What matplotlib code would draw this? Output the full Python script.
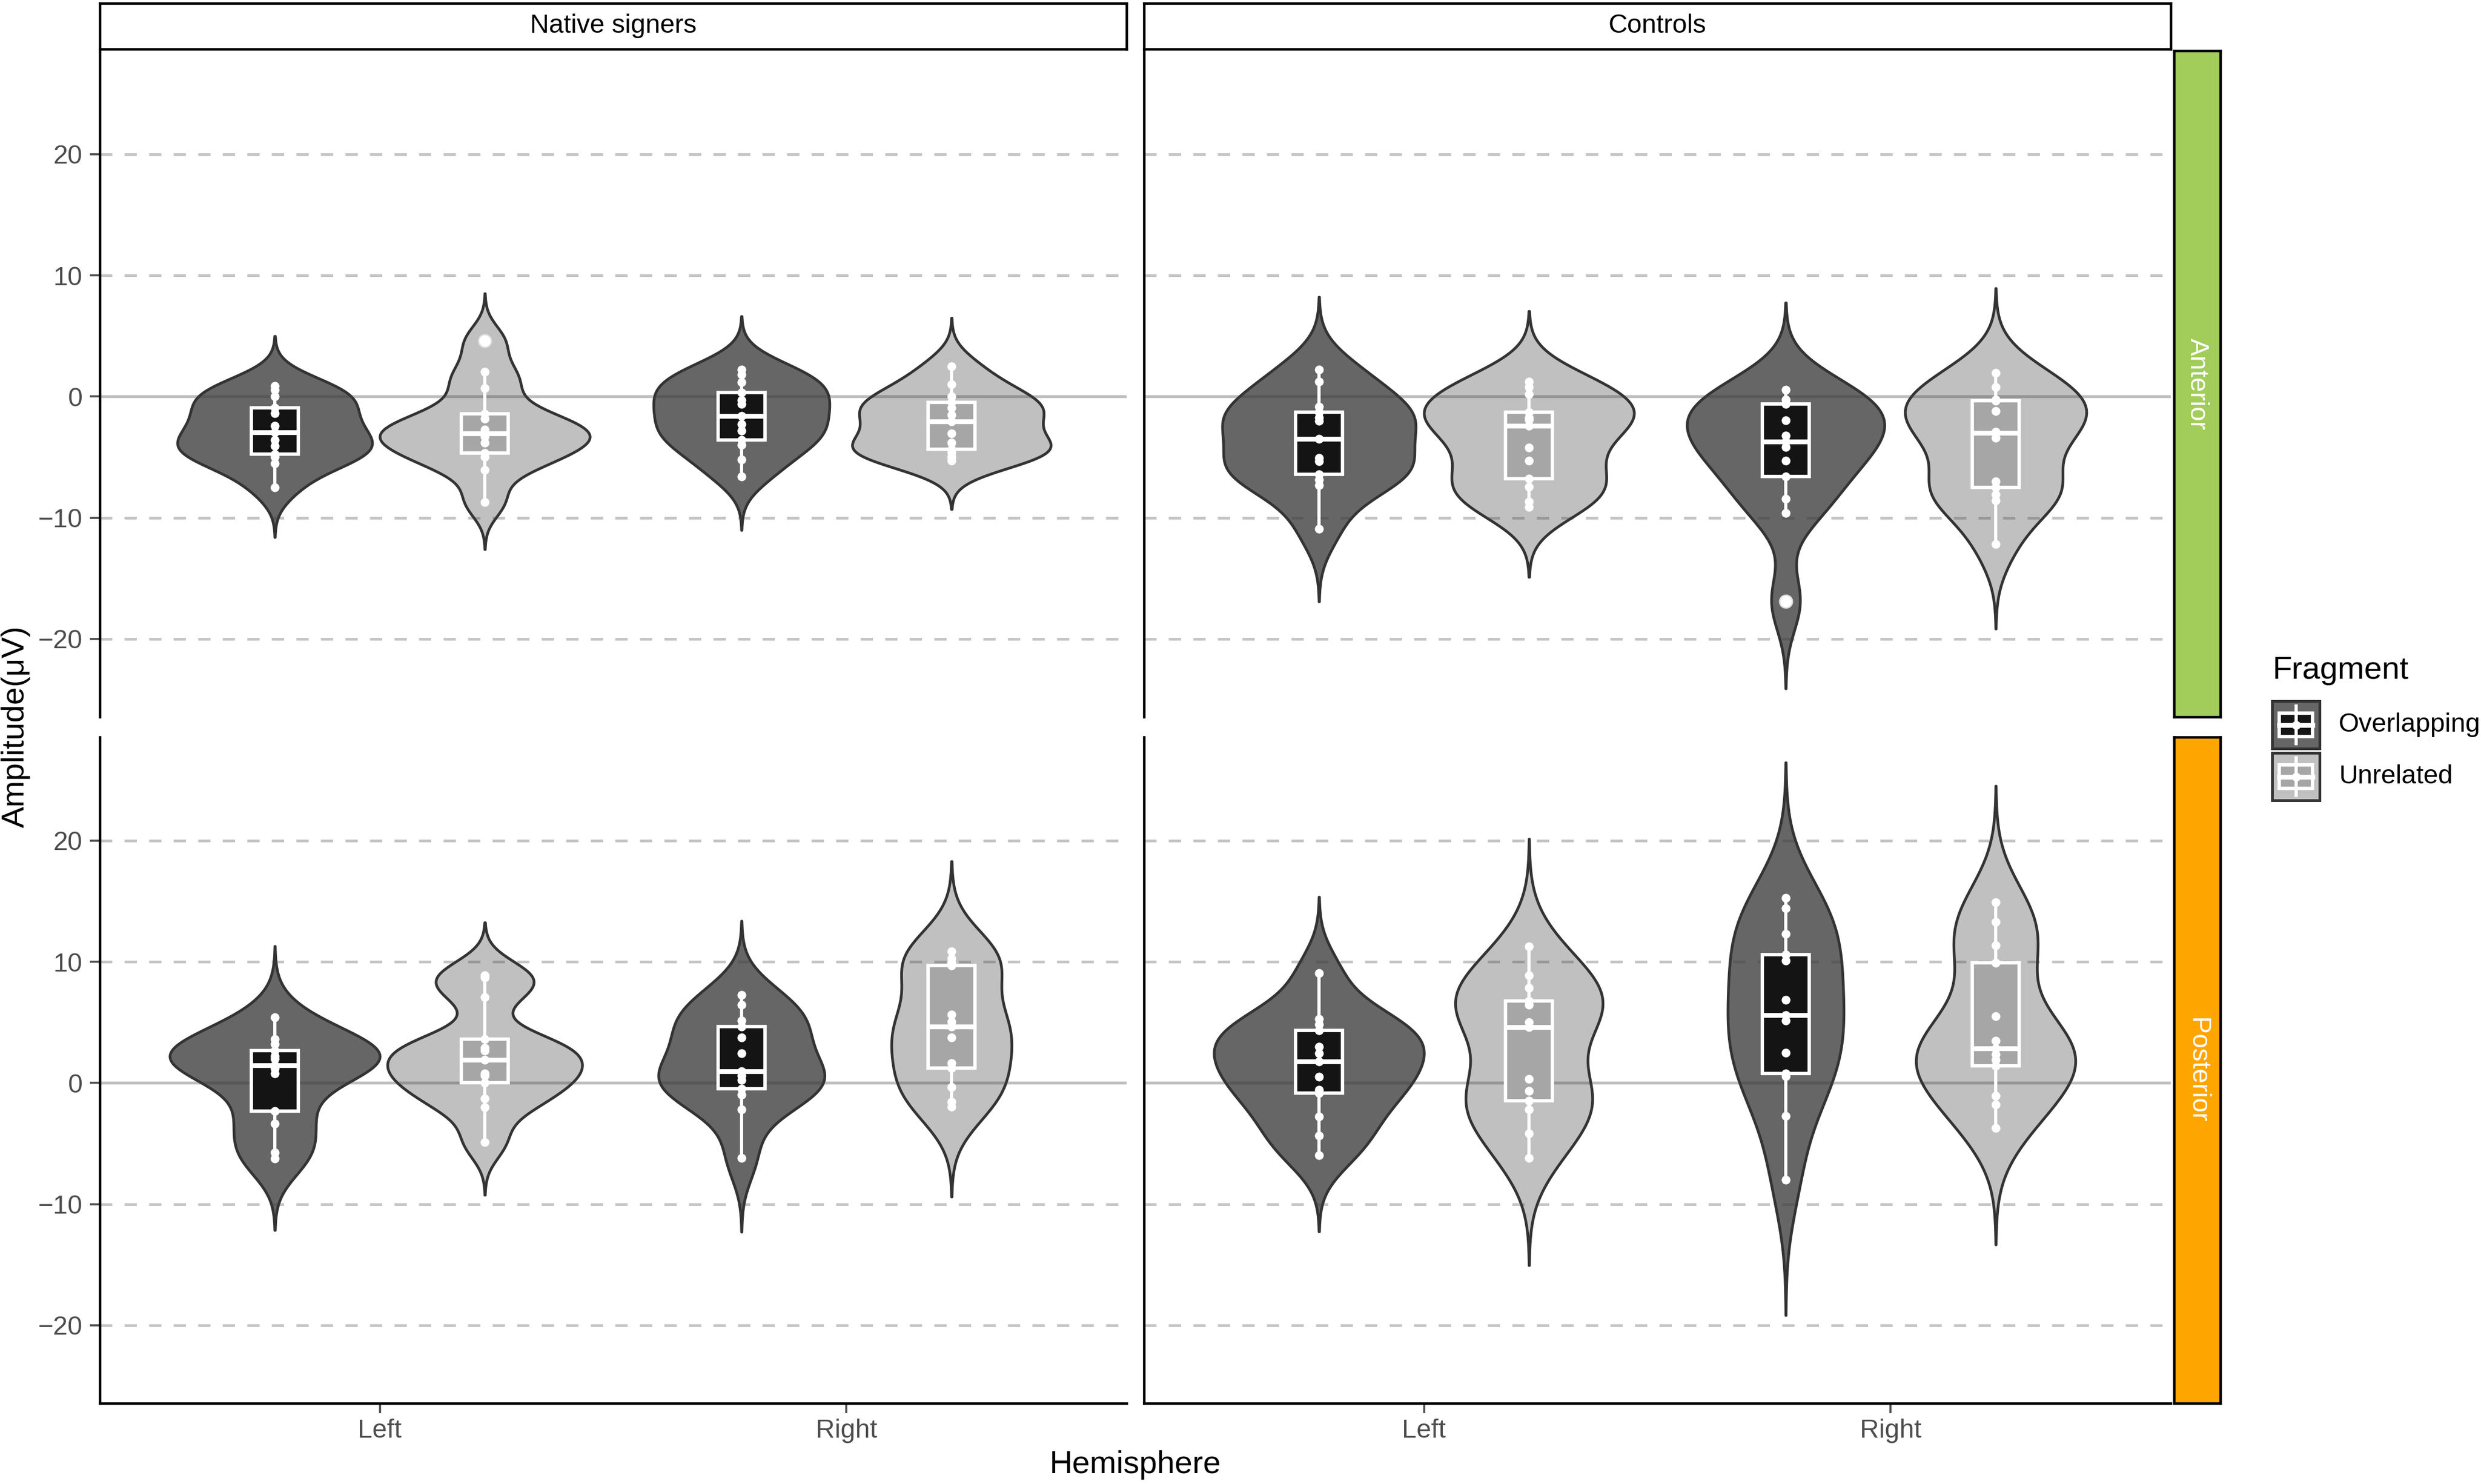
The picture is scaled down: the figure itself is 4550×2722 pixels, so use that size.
import numpy as np
import matplotlib
matplotlib.use("Agg")
import matplotlib.pyplot as plt
from matplotlib.patches import Rectangle

plt.rcParams['font.family'] = ['Liberation Sans', 'DejaVu Sans']

# ---- data: amplitudes (uV), one list per cell ----
groups = ['Native signers', 'Controls']
regions = ['Anterior', 'Posterior']
hemispheres = ['Left', 'Right']
fragments = ['Overlapping', 'Unrelated']

ns_ant_left_ovl = [-7.48, -5.5, -5.0, -4.77, -4.1, -3.6, -2.97, -2.4, -1.4, -0.95, 0.0, 0.56, 0.86]
ns_ant_left_unr = [-8.7, -6.05, -5.0, -4.67, -3.8, -3.3, -3.05, -2.75, -1.85, -1.43, 0.7, 2.06, 4.6]
ns_ant_right_ovl = [-6.6, -5.2, -4.0, -3.6, -2.8, -2.3, -1.6, -0.6, -0.3, 0.35, 1.2, 1.8, 2.2]
ns_ant_right_unr = [-5.3, -5.0, -4.6, -4.37, -3.8, -3.05, -2.07, -1.5, -0.95, -0.5, 0.0, 1.0, 2.5]
ctl_ant_left_ovl = [-10.9, -7.3, -6.85, -6.4, -5.35, -5.05, -3.48, -2.0, -1.75, -1.3, -0.85, 1.25, 2.2]
ctl_ant_left_unr = [-9.1, -8.65, -7.45, -6.78, -5.3, -4.2, -2.43, -1.9, -1.75, -1.3, 0.2, 0.8, 1.25]
ctl_ant_right_ovl = [-16.9, -9.6, -8.43, -6.6, -5.28, -4.17, -3.7, -3.23, -1.97, -0.63, -0.55, -0.24, 0.55]
ctl_ant_right_unr = [-12.2, -8.6, -8.1, -7.48, -7.0, -3.4, -2.99, -2.9, -1.18, -0.36, -0.24, 0.8, 1.97]

ns_post_left_ovl = [-6.26, -5.75, -3.35, -2.32, 0.77, 1.2, 1.46, 2.0, 2.2, 2.66, 3.2, 3.6, 5.4]
ns_post_left_unr = [-4.9, -2.0, -1.3, 0.0, 0.6, 0.77, 1.9, 2.66, 2.9, 3.6, 7.1, 8.7, 8.9]
ns_post_right_ovl = [-6.18, -2.17, -0.96, -0.46, 0.24, 0.6, 0.94, 2.45, 3.75, 4.65, 5.15, 6.46, 7.26]
ns_post_right_unr = [-1.97, -1.56, -0.36, 1.24, 1.64, 3.75, 4.65, 5.05, 5.66, 9.67, 9.9, 10.27, 10.87]
ctl_post_left_ovl = [-5.98, -4.37, -2.77, -0.86, -0.56, 0.5, 1.75, 2.45, 3.0, 4.35, 4.85, 5.26, 9.07]
ctl_post_left_unr = [-6.18, -4.17, -2.17, -1.46, -0.66, 0.34, 4.6, 5.0, 6.46, 6.76, 7.86, 8.87, 11.27]
ctl_post_right_ovl = [-7.98, -2.75, 0.54, 0.8, 2.48, 5.16, 5.6, 6.86, 10.1, 10.6, 12.3, 14.4, 15.26]
ctl_post_right_unr = [-3.72, -1.78, -1.05, 1.39, 1.9, 2.36, 2.85, 3.5, 5.52, 9.9, 11.36, 13.3, 14.9]

amplitudes = {
    ('Native signers', 'Anterior', 'Left', 'Overlapping'): ns_ant_left_ovl,
    ('Native signers', 'Anterior', 'Left', 'Unrelated'): ns_ant_left_unr,
    ('Native signers', 'Anterior', 'Right', 'Overlapping'): ns_ant_right_ovl,
    ('Native signers', 'Anterior', 'Right', 'Unrelated'): ns_ant_right_unr,
    ('Controls', 'Anterior', 'Left', 'Overlapping'): ctl_ant_left_ovl,
    ('Controls', 'Anterior', 'Left', 'Unrelated'): ctl_ant_left_unr,
    ('Controls', 'Anterior', 'Right', 'Overlapping'): ctl_ant_right_ovl,
    ('Controls', 'Anterior', 'Right', 'Unrelated'): ctl_ant_right_unr,
    ('Native signers', 'Posterior', 'Left', 'Overlapping'): ns_post_left_ovl,
    ('Native signers', 'Posterior', 'Left', 'Unrelated'): ns_post_left_unr,
    ('Native signers', 'Posterior', 'Right', 'Overlapping'): ns_post_right_ovl,
    ('Native signers', 'Posterior', 'Right', 'Unrelated'): ns_post_right_unr,
    ('Controls', 'Posterior', 'Left', 'Overlapping'): ctl_post_left_ovl,
    ('Controls', 'Posterior', 'Left', 'Unrelated'): ctl_post_left_unr,
    ('Controls', 'Posterior', 'Right', 'Overlapping'): ctl_post_right_ovl,
    ('Controls', 'Posterior', 'Right', 'Unrelated'): ctl_post_right_unr,
}

# ---- style ----
violin_fill = {'Overlapping': '#666666', 'Unrelated': '#C0C0C0'}
box_fill = {'Overlapping': '#141414', 'Unrelated': '#A6A6A6'}
strip_fill = {'Anterior': '#A2CD5A', 'Posterior': '#FFA500'}
outline = '#333333'
tick_col = '#4D4D4D'
FS = 11.6
FS_TITLE = 14

W, H = 4550, 2722
DPI = 300
col_px = [(183, 2066), (2098, 3981)]
row_px = [(93, 1315), (1352, 2574)]
YLIM = (-26.45, 28.55)


def px_axes(fig, x0, y0, x1, y1):
    return fig.add_axes([x0 / W, 1 - y1 / H, (x1 - x0) / W, (y1 - y0) / H])


def nrd0(x):
    sd = np.std(x, ddof=1)
    q75, q25 = np.percentile(x, [75, 25])
    return 0.9 * min(sd, (q75 - q25) / 1.34) * len(x) ** -0.2


def kde(x):
    x = np.asarray(x, dtype=float)
    bw = nrd0(x)
    y = np.linspace(x.min() - 3 * bw, x.max() + 3 * bw, 512)
    d = np.exp(-0.5 * ((y[:, None] - x[None, :]) / bw) ** 2).sum(1)
    d /= len(x) * bw * np.sqrt(2 * np.pi)
    return y, d


fig = plt.figure(figsize=(W / DPI, H / DPI), dpi=DPI)

for r, region in enumerate(regions):
    for c, group in enumerate(groups):
        x0, x1 = col_px[c]
        y0, y1 = row_px[r]
        ax = px_axes(fig, x0, y0, x1, y1)
        ax.set_xlim(0.4, 2.6)
        ax.set_ylim(*YLIM)

        # densities, scaled per panel by area
        dens = {}
        for h in hemispheres:
            for f in fragments:
                dens[(h, f)] = kde(amplitudes[(group, region, h, f)])
        dmax = max(d.max() for _, d in dens.values())

        for hi, h in enumerate(hemispheres):
            for fi, f in enumerate(fragments):
                xc = hi + 1 + (-0.225 if fi == 0 else 0.225)
                vals = np.asarray(amplitudes[(group, region, h, f)])
                yy, dd = dens[(h, f)]
                half = 0.225 * dd / dmax
                ax.fill_betweenx(yy, xc - half, xc + half, facecolor=violin_fill[f],
                                 edgecolor=outline, linewidth=1.2, zorder=1)

                q1, med, q3 = np.percentile(vals, [25, 50, 75])
                iqr = q3 - q1
                inside = vals[(vals >= q1 - 1.5 * iqr) & (vals <= q3 + 1.5 * iqr)]
                outl = vals[(vals < q1 - 1.5 * iqr) | (vals > q3 + 1.5 * iqr)]
                ax.plot([xc, xc], [q3, inside.max()], color='white', lw=1.4, zorder=3)
                ax.plot([xc, xc], [q1, inside.min()], color='white', lw=1.4, zorder=3)
                ax.add_patch(Rectangle((xc - 0.05, q1), 0.1, iqr, facecolor=box_fill[f],
                                       edgecolor='white', linewidth=1.5, zorder=3))
                ax.plot([xc - 0.05, xc + 0.05], [med, med], color='white', lw=2.1,
                        solid_capstyle='butt', zorder=4)
                if len(outl):
                    ax.scatter(np.full(len(outl), xc), outl, s=32, color='white',
                               edgecolors='#DDDDDD', linewidths=0.6, zorder=5)
                ax.scatter(np.full(len(vals), xc), vals, s=15, color='white',
                           linewidths=0, zorder=5)

        # reference lines drawn over the violins
        ax.axhline(0, color='#3C3C3C', alpha=0.33, lw=1.3, zorder=2)
        for g in (-20, -10, 10, 20):
            ax.axhline(g, color='#404040', alpha=0.3, lw=1.2, dashes=(4.5, 4.5), zorder=2)

        for s in ('top', 'right'):
            ax.spines[s].set_visible(False)
        ax.spines['left'].set_linewidth(1.1)
        ax.spines['left'].set_color('black')
        if r == 0:
            ax.spines['bottom'].set_visible(False)
            ax.set_xticks([])
        else:
            ax.spines['bottom'].set_linewidth(1.1)
            ax.set_xticks([1, 2])
            ax.set_xticklabels(hemispheres)
            ax.tick_params(axis='x', length=4.3, width=0.9, color=tick_col,
                           labelcolor=tick_col, labelsize=FS, pad=2.5)
        ax.set_yticks([-20, -10, 0, 10, 20])
        if c == 0:
            ax.set_yticklabels(['\u221220', '\u221210', '0', '10', '20'])
            ax.tick_params(axis='y', length=4.3, width=0.9, color=tick_col,
                           labelcolor=tick_col, labelsize=FS, pad=3.4)
        else:
            ax.tick_params(axis='y', length=0, labelleft=False)

# facet strips
for c, group in enumerate(groups):
    x0, x1 = col_px[c]
    sax = px_axes(fig, x0, 6, x1, 90)
    sax.set_xticks([])
    sax.set_yticks([])
    for sp in sax.spines.values():
        sp.set_linewidth(1.1)
    sax.text(0.5, 0.5, group, ha='center', va='center', fontsize=FS,
             color='black', transform=sax.transAxes)

for r, region in enumerate(regions):
    y0, y1 = row_px[r]
    sax = px_axes(fig, 3987, y0, 4072, y1)
    sax.set_facecolor(strip_fill[region])
    sax.set_xticks([])
    sax.set_yticks([])
    for sp in sax.spines.values():
        sp.set_linewidth(1.1)
    sax.text(0.5, 0.5, region, ha='center', va='center', rotation=-90,
             fontsize=FS, color='white', transform=sax.transAxes)

# axis titles
fig.text(29 / W, 1 - 1333 / H, 'Amplitude(\u03bcV)', rotation=90, ha='center',
         va='center', fontsize=FS_TITLE)
fig.text((183 + 3981) / 2 / W, 1 - 2687 / H, 'Hemisphere', ha='center',
         va='center', fontsize=FS_TITLE)

# legend
fig.text(4167 / W, 1 - 1230 / H, 'Fragment', ha='left', va='center', fontsize=FS_TITLE)
lax = px_axes(fig, 4160, 1280, 4550, 1475)
lax.set_xlim(4160, 4550)
lax.set_ylim(1475, 1280)
lax.axis('off')
for k, f in enumerate(fragments):
    ky0 = 1286 + k * 95
    kx0, ks = 4167, 87
    lax.add_patch(Rectangle((kx0, ky0), ks, ks, facecolor=violin_fill[f],
                            edgecolor=outline, linewidth=1.2))
    lax.plot([kx0 + ks / 2] * 2, [ky0 + 0.1 * ks, ky0 + 0.9 * ks], color='white', lw=1.4)
    lax.add_patch(Rectangle((kx0 + 0.15 * ks, ky0 + 0.25 * ks), 0.7 * ks, 0.5 * ks,
                            facecolor=box_fill[f], edgecolor='white', linewidth=1.5))
    lax.plot([kx0 + 0.15 * ks, kx0 + 0.85 * ks], [ky0 + ks / 2] * 2, color='white', lw=2.1)
    lax.scatter([kx0 + ks / 2], [ky0 + ks / 2], s=15, color='white', linewidths=0, zorder=5)
    lax.text(4289, ky0 + ks / 2, f, ha='left', va='center', fontsize=FS, color='black')

fig.savefig('out.png', dpi=DPI, facecolor='white')
